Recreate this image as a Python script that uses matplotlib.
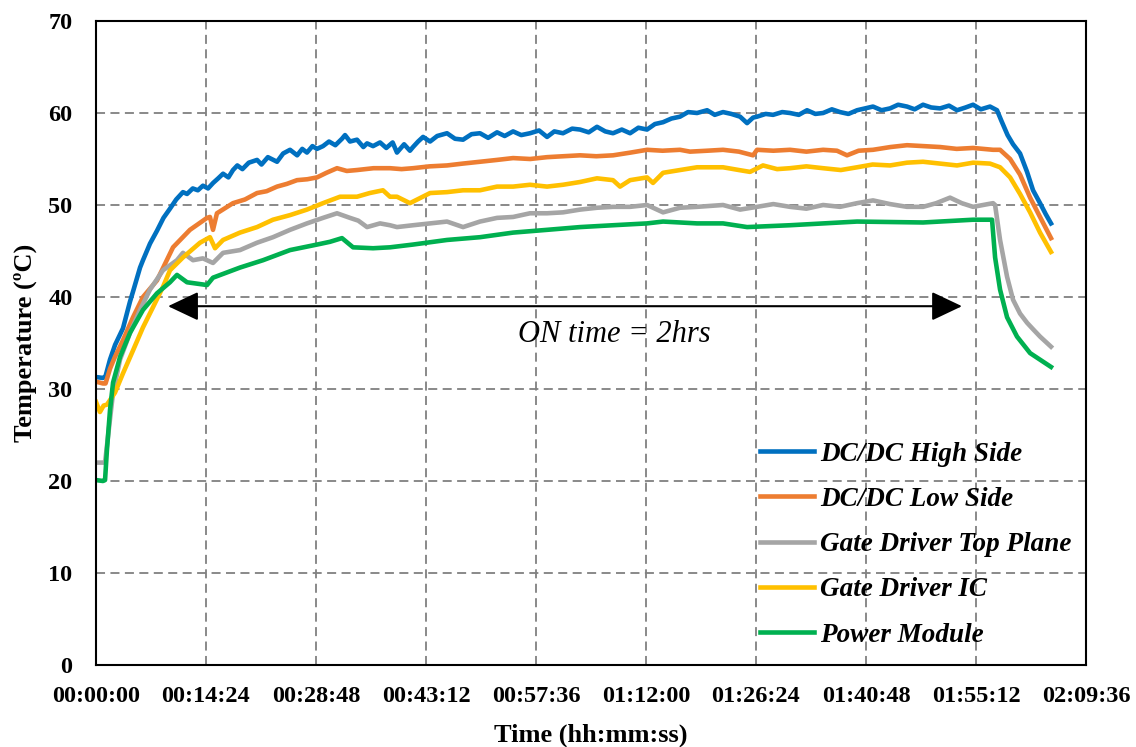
import matplotlib
matplotlib.use('Agg')
import matplotlib.pyplot as plt
from matplotlib.ticker import FuncFormatter, MultipleLocator

plt.rcParams['font.family'] = ['Liberation Serif', 'DejaVu Serif']

# time in seconds, temperature in degC
hs_t = [0, 55, 75, 110, 150, 212, 267, 291, 346, 369, 424, 479, 530, 581, 630, 683, 715, 760,
        800, 840, 880, 920, 960, 998, 1040, 1076, 1110, 1150, 1200, 1265, 1300, 1350, 1422, 1470,
        1524, 1580, 1620, 1657, 1700, 1736, 1783, 1830, 1880, 1932, 1956, 1995, 2050, 2100, 2129,
        2176, 2231, 2280, 2330, 2364, 2420, 2466, 2490, 2530, 2569, 2624, 2680, 2757, 2820, 2883,
        2950, 3016, 3080, 3150, 3210, 3276, 3340, 3409, 3480, 3543, 3600, 3668, 3740, 3802, 3870,
        3935, 4000, 4061, 4130, 4195, 4260, 4328, 4390, 4454, 4520, 4587, 4650, 4721, 4800, 4860,
        4925, 4990, 5059, 5114, 5161, 5192, 5260, 5318, 5390, 5451, 5520, 5585, 5650, 5711, 5780,
        5844, 5910, 5978, 6040, 6103, 6170, 6237, 6300, 6370, 6430, 6496, 6560, 6630, 6700, 6763,
        6830, 6889, 6950, 7022, 7077, 7110, 7160, 7203, 7258, 7313, 7360, 7415, 7460, 7501]
hs_v = [31.3, 31.2, 31.4, 33.2, 34.8, 36.6, 39.5, 40.6, 43.2, 44.0, 45.8, 47.2, 48.6, 49.6, 50.6,
        51.4, 51.2, 51.8, 51.6, 52.1, 51.8, 52.4, 52.9, 53.4, 53.0, 53.8, 54.3, 53.9, 54.6, 54.9,
        54.4, 55.2, 54.7, 55.6, 56.0, 55.4, 56.1, 55.7, 56.4, 56.1, 56.4, 56.9, 56.5, 57.2, 57.6,
        56.9, 57.1, 56.3, 56.7, 56.4, 56.8, 56.2, 56.8, 55.7, 56.6, 55.9, 56.3, 56.9, 57.4, 56.9,
        57.5, 57.8, 57.2, 57.1, 57.7, 57.8, 57.3, 57.9, 57.5, 58.0, 57.6, 57.8, 58.1, 57.4, 58.0,
        57.8, 58.3, 58.2, 57.9, 58.5, 58.0, 57.8, 58.2, 57.8, 58.4, 58.2, 58.8, 59.0, 59.4, 59.6,
        60.1, 60.0, 60.3, 59.8, 60.1, 59.9, 59.6, 58.9, 59.5, 59.6, 59.9, 59.8, 60.1, 60.0, 59.8,
        60.3, 59.9, 60.0, 60.4, 60.1, 59.9, 60.3, 60.5, 60.7, 60.3, 60.5, 60.9, 60.7, 60.4, 60.9,
        60.6, 60.5, 60.8, 60.3, 60.6, 60.9, 60.4, 60.7, 60.3, 59.2, 57.6, 56.6, 55.6, 53.6, 51.6,
        50.2, 49.0, 48.0]

ls_t = [0, 55, 75, 110, 149, 212, 291, 369, 479, 605, 738, 872, 895, 919, 950, 1076, 1170, 1265,
        1340, 1422, 1500, 1579, 1660, 1736, 1810, 1893, 1970, 2050, 2180, 2309, 2400, 2490, 2620,
        2757, 2880, 3016, 3150, 3276, 3410, 3543, 3670, 3802, 3930, 4061, 4200, 4328, 4450, 4587,
        4666, 4800, 4925, 5050, 5161, 5192, 5320, 5451, 5580, 5711, 5820, 5899, 5990, 6103, 6240,
        6370, 6500, 6630, 6760, 6889, 7046, 7101, 7180, 7258, 7337, 7415, 7501]
ls_v = [30.8, 30.6, 30.6, 32.2, 33.5, 35.3, 37.8, 40.0, 41.8, 45.4, 47.3, 48.6, 48.7, 47.3, 49.1,
        50.2, 50.6, 51.3, 51.5, 52.0, 52.3, 52.7, 52.8, 53.0, 53.5, 54.0, 53.7, 53.8, 54.0, 54.0,
        53.9, 54.0, 54.2, 54.3, 54.5, 54.7, 54.9, 55.1, 55.0, 55.2, 55.3, 55.4, 55.3, 55.4, 55.7,
        56.0, 55.9, 56.0, 55.8, 55.9, 56.0, 55.8, 55.4, 56.0, 55.9, 56.0, 55.8, 56.0, 55.9, 55.4,
        55.9, 56.0, 56.3, 56.5, 56.4, 56.3, 56.1, 56.2, 56.0, 56.0, 55.0, 53.3, 50.8, 48.7, 46.4]

tp_t = [0, 55, 71, 94, 134, 189, 267, 346, 424, 526, 636, 683, 762, 840, 919, 998, 1131, 1265, 1390,
        1524, 1657, 1783, 1893, 1995, 2060, 2129, 2231, 2309, 2364, 2490, 2624, 2757, 2883, 3016,
        3150, 3276, 3409, 3543, 3668, 3802, 3935, 4061, 4195, 4328, 4454, 4587, 4721, 4925, 5059,
        5192, 5320, 5451, 5580, 5711, 5844, 5978, 6103, 6237, 6370, 6496, 6600, 6708, 6800, 6889,
        7046, 7062, 7101, 7156, 7203, 7258, 7313, 7360, 7415, 7501]
tp_v = [22.0, 22.0, 22.0, 24.8, 29.6, 33.2, 36.1, 38.6, 40.8, 42.9, 44.0, 44.8, 44.0, 44.2, 43.7,
        44.8, 45.1, 45.9, 46.5, 47.3, 48.0, 48.6, 49.1, 48.6, 48.3, 47.6, 48.0, 47.8, 47.6, 47.8,
        48.0, 48.2, 47.6, 48.2, 48.6, 48.7, 49.1, 49.1, 49.2, 49.5, 49.7, 49.8, 49.8, 50.0, 49.2,
        49.7, 49.8, 50.0, 49.5, 49.8, 50.1, 49.8, 49.6, 50.0, 49.8, 50.2, 50.5, 50.1, 49.8, 49.8,
        50.2, 50.8, 50.2, 49.8, 50.2, 50.0, 46.2, 42.2, 39.7, 38.2, 37.2, 36.5, 35.7, 34.6]

ic_t = [0, 31, 60, 86, 149, 212, 291, 369, 448, 526, 581, 683, 817, 895, 935, 998, 1131, 1265,
        1390, 1524, 1657, 1783, 1917, 2050, 2150, 2254, 2309, 2364, 2466, 2624, 2757, 2883, 3016,
        3150, 3276, 3409, 3543, 3668, 3802, 3935, 4061, 4116, 4195, 4328, 4375, 4454, 4587, 4721,
        4925, 5050, 5137, 5239, 5350, 5451, 5580, 5711, 5850, 5978, 6100, 6237, 6370, 6496, 6630,
        6763, 6889, 7022, 7101, 7180, 7258, 7337, 7415, 7501]
ic_v = [28.6, 27.5, 28.2, 28.3, 29.6, 31.7, 34.2, 36.7, 38.9, 41.1, 42.9, 44.3, 45.9, 46.5, 45.3,
        46.2, 47.0, 47.6, 48.4, 48.9, 49.5, 50.2, 50.9, 50.9, 51.3, 51.6, 50.9, 50.9, 50.2, 51.3,
        51.4, 51.6, 51.6, 52.0, 52.0, 52.2, 52.0, 52.2, 52.5, 52.9, 52.7, 52.0, 52.7, 53.0, 52.4,
        53.5, 53.8, 54.1, 54.1, 53.8, 53.6, 54.3, 53.9, 54.0, 54.2, 54.0, 53.8, 54.1, 54.4, 54.3,
        54.6, 54.7, 54.5, 54.3, 54.6, 54.5, 54.1, 53.0, 51.2, 49.2, 47.0, 44.9]

pm_t = [0, 55, 71, 86, 110, 134, 189, 267, 369, 479, 581, 636, 715, 872, 919, 1131, 1312, 1524,
        1736, 1838, 1932, 2019, 2176, 2309, 2490, 2757, 3016, 3276, 3543, 3802, 4061, 4328, 4454,
        4721, 4925, 5114, 5451, 5978, 6496, 6889, 7038, 7062, 7101, 7156, 7234, 7337, 7501]
pm_v = [20.1, 20.0, 20.1, 23.4, 27.7, 30.7, 33.5, 36.1, 38.6, 40.4, 41.6, 42.4, 41.6, 41.3, 42.1,
        43.2, 44.0, 45.1, 45.7, 46.0, 46.4, 45.4, 45.3, 45.4, 45.7, 46.2, 46.5, 47.0, 47.3, 47.6,
        47.8, 48.0, 48.2, 48.0, 48.0, 47.6, 47.8, 48.2, 48.1, 48.4, 48.4, 44.3, 40.8, 37.8, 35.7,
        33.9, 32.4]

labels = ['DC/DC High Side', 'DC/DC Low Side', 'Gate Driver Top Plane',
          'Gate Driver IC', 'Power Module']
colors = ['#0070C0', '#ED7D31', '#A5A5A5', '#FFC000', '#00B050']

arrow_start, arrow_end, arrow_y = 566, 6802, 39.0

fig = plt.figure(figsize=(11.36, 7.47), dpi=100)
ax = fig.add_axes([96 / 1136, 1 - 665 / 747, 990 / 1136, 644 / 747])

series = [(hs_t, hs_v), (ls_t, ls_v), (tp_t, tp_v), (ic_t, ic_v), (pm_t, pm_v)]
for (t, v), lab, c in zip(series, labels, colors):
    ax.plot(t, v, color=c, lw=3.3, label=lab, solid_joinstyle='round')

ax.set_xlim(0, 7776)
ax.set_ylim(0, 70)
ax.xaxis.set_major_locator(MultipleLocator(864))
ax.yaxis.set_major_locator(MultipleLocator(10))


def hms(x, pos):
    s = int(round(x))
    return '%02d:%02d:%02d' % (s // 3600, (s % 3600) // 60, s % 60)


ax.xaxis.set_major_formatter(FuncFormatter(hms))
ax.grid(True, color='#808080', linestyle=(0, (5, 3)), lw=1.3)
ax.set_axisbelow(True)
ax.tick_params(length=0, labelsize=17.5)
ax.tick_params(axis='x', pad=15)
ax.tick_params(axis='y', pad=17)
for lab in ax.get_xticklabels() + ax.get_yticklabels():
    lab.set_fontweight('bold')
for sp in ax.spines.values():
    sp.set_linewidth(1.5)

ax.set_xlabel('Time (hh:mm:ss)', fontsize=19, fontweight='bold', labelpad=12)
ax.set_ylabel('Temperature (ºC)', fontsize=19, fontweight='bold', labelpad=8)

ax.annotate('', xy=(arrow_start, arrow_y), xytext=(arrow_end, arrow_y),
            arrowprops=dict(arrowstyle='<|-|>,head_length=0.95,head_width=0.45',
                            mutation_scale=20, color='black', lw=1.5,
                            shrinkA=0, shrinkB=0))
ax.text(4069, 35.9, 'ON time = 2hrs', fontsize=22, style='italic',
        ha='center', va='center')

leg = ax.legend(loc='upper left', bbox_to_anchor=(0.671, 0.347), frameon=False,
                prop=dict(size=19.5, weight='bold', style='italic'),
                handlelength=2.0, handletextpad=0.2, labelspacing=0.75,
                borderpad=0, borderaxespad=0)

plt.savefig('out.png', dpi=100)
